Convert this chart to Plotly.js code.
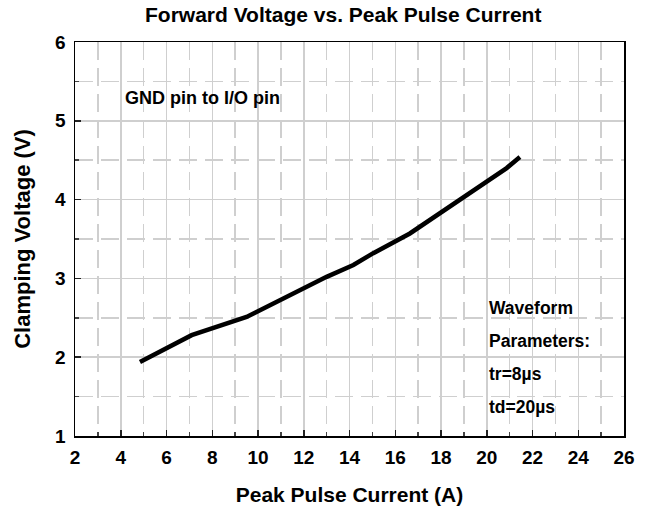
<!DOCTYPE html>
<html>
<head>
<meta charset="utf-8">
<script src="https://cdn.plot.ly/plotly-3.0.1.min.js"></script>
<style>html,body{margin:0;padding:0;background:#fff;}#chart{width:650px;height:510px;}</style>
</head>
<body>
<div id="chart"></div>
<script>
// Data
const peakCurrent = [4.84, 7.10, 9.50, 11.25, 13.0, 14.17, 15.04, 16.64, 18.98, 20.0, 20.87, 21.45];
const clampVoltage = [1.94, 2.28, 2.51, 2.77, 3.02, 3.17, 3.32, 3.57, 4.02, 4.23, 4.40, 4.54];
const xTicks = [2, 4, 6, 8, 10, 12, 14, 16, 18, 20, 22, 24, 26];
const yTicks = [1, 2, 3, 4, 5, 6];
const noteMain = "GND pin to I/O pin";
const waveformLines = ["Waveform", "Parameters:", "tr=8\u00b5s", "td=20\u00b5s"];
const waveformY = [2.62, 2.205, 1.787, 1.368];

const FONT = "Liberation Sans, Arial, Helvetica, sans-serif";
const gridCol = "#cfcfcf";

const trace = {
  x: peakCurrent, y: clampVoltage, type: "scatter", mode: "lines",
  line: {color: "#000", width: 4.5}, hoverinfo: "skip", showlegend: false
};

const axisCommon = {
  showline: true, linecolor: "#000", linewidth: 1.5, mirror: true,
  ticks: "inside", ticklen: 6, tickwidth: 1.5, tickcolor: "#222",
  showgrid: true, gridcolor: gridCol, gridwidth: 1.5,
  zeroline: false, ticklabelstandoff: 4,
  tickfont: {family: FONT, size: 19, color: "#000", weight: "bold"},
};

const annotations = [{
  x: 4.1, y: 5.29, xref: "x", yref: "y", xanchor: "left", yanchor: "middle",
  text: noteMain, showarrow: false,
  font: {family: FONT, size: 18, color: "#000", weight: "bold"}
}];
waveformLines.forEach((t, i) => annotations.push({
  x: 20.0, y: waveformY[i], xref: "x", yref: "y", xanchor: "left", yanchor: "middle",
  text: t, showarrow: false,
  font: {family: FONT, size: 17.5, color: "#000", weight: "bold"}
}));

const layout = {
  width: 650, height: 510,
  margin: {l: 75, r: 26, t: 42, b: 74},
  paper_bgcolor: "#fff", plot_bgcolor: "#fff",
  font: {family: FONT, color: "#000"},
  title: {
    text: "Forward Voltage vs. Peak Pulse Current",
    font: {family: FONT, size: 21, color: "#000", weight: "bold"},
    x: 0.528, xanchor: "center", y: 0.972, yanchor: "middle"
  },
  xaxis: Object.assign({}, axisCommon, {
    range: [2, 26], tickmode: "array", tickvals: xTicks, ticktext: xTicks.map(String),
    minor: {dtick: 1, tick0: 0, ticks: "inside", ticklen: 4, tickcolor: "#444",
            showgrid: true, gridcolor: gridCol, gridwidth: 1.5, griddash: "18px,8px"},
    title: {text: "Peak Pulse Current (A)", standoff: 20,
            font: {family: FONT, size: 21, color: "#000", weight: "bold"}}
  }),
  yaxis: Object.assign({}, axisCommon, {
    range: [1, 6], tickmode: "array", tickvals: yTicks, ticktext: yTicks.map(String),
    minor: {dtick: 0.5, tick0: 0, ticks: "inside", ticklen: 4, tickcolor: "#444",
            showgrid: true, gridcolor: gridCol, gridwidth: 1.5, griddash: "18px,8px"},
    title: {text: "Clamping Voltage (V)", standoff: 18,
            font: {family: FONT, size: 22, color: "#000", weight: "bold"}}
  }),
  shapes: [
    {type: "rect", xref: "paper", yref: "paper", x0: 0.058, x1: 0.419, y0: 0.822, y1: 0.924,
     fillcolor: "#fff", line: {width: 0}, layer: "between"},
    {type: "rect", xref: "paper", yref: "paper", x0: 0.725, x1: 0.997, y0: 0.003, y1: 0.368,
     fillcolor: "#fff", line: {width: 0}, layer: "between"}
  ],
  annotations: annotations
};

Plotly.newPlot("chart", [trace], layout, {displayModeBar: false, staticPlot: true});
</script>
</body>
</html>
